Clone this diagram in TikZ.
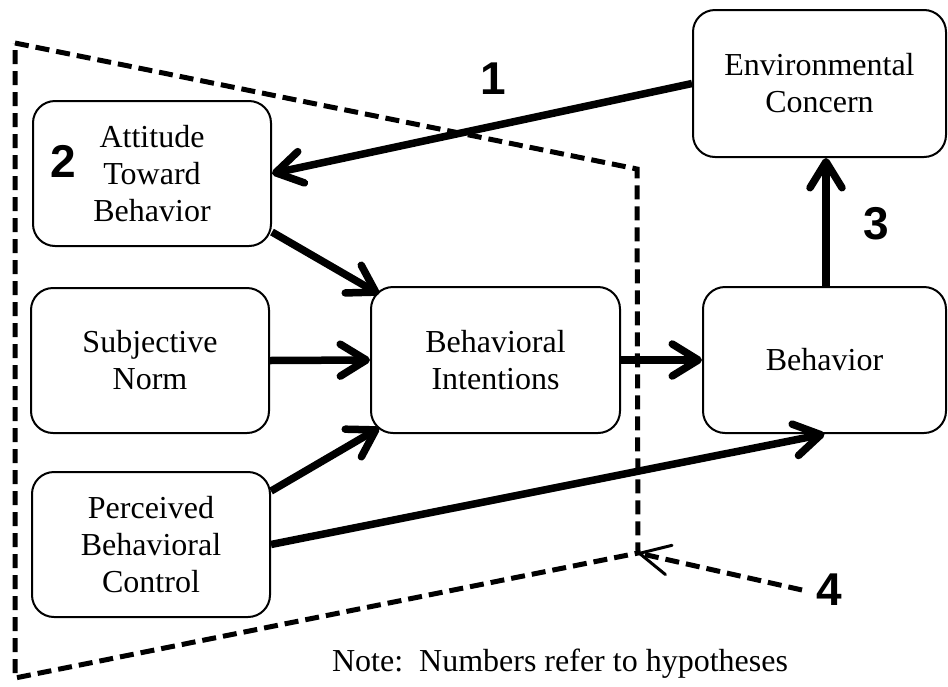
\documentclass[tikz,border=0pt]{standalone}
\usepackage{fontspec}
\setmainfont{Liberation Serif}
\newfontfamily\numfont{Liberation Sans}
\usetikzlibrary{arrows.meta}
\usetikzlibrary{positioning}

\tikzset{
  box/.style={draw, line width=2pt, rounded corners=22pt, align=center, inner sep=0pt,
              font=\fontsize{32}{37}\selectfont},
  arr/.style={line width=7.5pt, -{Straight Barb[length=26pt,width=32pt,round]}},
  hyp/.style={inner sep=0pt, font=\numfont\bfseries\fontsize{46}{46}\selectfont},
  frame/.style={line width=5pt, dash pattern=on 14pt off 7pt},
}

\begin{document}
\begin{tikzpicture}[x=1pt, y=-1pt]

  \useasboundingbox (0,0) rectangle (948,686);

  \def\w{238};
  \def\h{145};

	%draw boxes
  \node[box, minimum width=\w, minimum height=\h] (att) at (152,173.5) {Attitude\\Toward\\Behavior};
  \node[box, minimum width=\w, minimum height=\h] (sn)  at (150,360.5) {Subjective\\Norm};
  \node[box, minimum width=\w, minimum height=\h] (pbc) at (151,544.5) {Perceived\\Behavioral\\Control};
  \node[box, minimum width=249, minimum height=146] (bi)  at (495.5,360) {Behavioral\\Intentions};
  \node[box, minimum width=243, minimum height=146] (beh) at (824.5,360) {Behavior};
  \node[box, minimum width=253, minimum height=147] (env) at (819.5,83.5) {Environmental\\Concern};

	%dashed frame
  \coordinate (p1) at (15,43);
  \coordinate (p2) at (637,169);
  \coordinate (p3) at (638,553);
  \coordinate (p4) at (15,678);
  \draw[frame] (p1) -- (p2) -- (p3) -- (p4) -- cycle;

	%hypotheses
  \foreach \num/\x/\y in {1/493/79, 2/63/161, 3/876/224, 4/829/590}{
     \node[hyp] (n\num) at (\x,\y) {\num};
  }

	%arrows
  \draw[arr] (env.west) -- (att.east);
  \draw[arr] (att.-26) -- ([shift={(9,8)}]bi.north west);
  \draw[arr] (sn.east) -- (bi.west);
  \draw[arr] (pbc.24) -- ([shift={(9,-6)}]bi.south west);
  \draw[arr] (pbc.east) -- (beh.south);
  \draw[arr] (bi.east) -- (beh.west);
  \draw[arr] ([xshift=1.5]beh.north) -- ([xshift=1.5]beh.north |- env.south);

  \draw[line width=5pt, dash pattern=on 14pt off 7pt,
        -{Straight Barb[length=30pt,width=30pt,round,line width=3pt]}] ([xshift=-14]n4.west) -- (p3);

	%note
  \node[font=\fontsize{32}{37}\selectfont] (note) at (560,664) {Note:\ \ Numbers refer to hypotheses};

\end{tikzpicture}
\end{document}
